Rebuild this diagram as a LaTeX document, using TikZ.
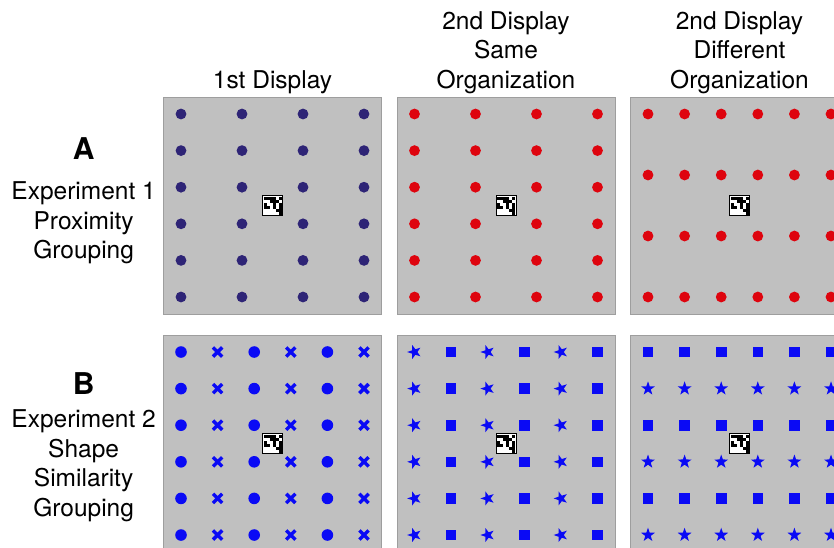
\documentclass[tikz,border=0pt]{standalone}
\usepackage{fontspec}
\setmainfont{TeX Gyre Heros}
\usetikzlibrary{positioning}

\definecolor{panelgray}{RGB}{192,192,192}
\definecolor{framegray}{RGB}{158,158,158}
\definecolor{navydot}{RGB}{46,36,118}
\definecolor{reddot}{RGB}{222,4,14}
\definecolor{shapeblue}{RGB}{10,10,245}

\tikzset{
    % fixation mark in the middle of every display
    fixation/.pic={
        \fill[white] (-10,-10) rectangle (10,10);
        \foreach \i/\j in {0/0,1/0,2/0,3/0,5/0, 2/1,3/1,4/1, 0/2,3/2,5/2,
                           0/3,1/3,3/3,5/3, 4/4,5/4, 5/5}
            \fill[black] (-9+3*\i,-9+3*\j) rectangle ++(3,3);
        \draw[black, line width=1pt] (-10,-10) rectangle (10,10);
    },
    crossmark/.pic={
        \draw[shapeblue, line width=3.4pt] (-4.6,-4.6) -- (4.6,4.6) (-4.6,4.6) -- (4.6,-4.6);
    },
    squaremark/.pic={
        \fill[shapeblue] (-5.3,-5.3) rectangle (5.3,5.3);
    },
    starmark/.pic={
        \fill[shapeblue] (-90:7.3) \foreach \k in {1,...,9}{
            -- ({-90+36*\k}:{ifthenelse(isodd(\k),2.9,7.3)}) } -- cycle;
    }
}

\begin{document}
\begin{tikzpicture}[
        x=1pt, y=-1pt,
        node distance=15.5pt and 15.5pt,
        panel/.style={rectangle, draw=framegray, fill=panelgray, line width=0.8pt,
                      minimum width=218pt, minimum height=217pt, inner sep=0pt, outer sep=0pt},
        header/.style={align=center, inner sep=0pt, font=\fontsize{24.5}{29.5}\selectfont},
        rowlabel/.style={align=center, inner sep=0pt, font=\fontsize{24.5}{29.5}\selectfont},
        letter/.style={inner sep=0pt, font=\fontsize{30}{30}\selectfont\bfseries}
    ]
        \clip (0,0) rectangle (834,547);

        % Displays
        \node[panel] (p11) at (272.5,205.5) {};
        \node[panel, right=of p11] (p12) {};
        \node[panel, right=of p12] (p13) {};
        \node[panel, below=21pt of p11] (p21) {};
        \node[panel, right=of p21] (p22) {};
        \node[panel, right=of p22] (p23) {};

        % Column headers
        \node[header, above=3pt of p11] (h1) {1st Display};
        \node[header, above=3pt of p12] (h2) {2nd Display\\Same\\Organization};
        \node[header, above=3pt of p13] (h3) {2nd Display\\Different\\Organization};

        % Row labels
        \node[rowlabel, left=7.5pt of p11, yshift=-17.5pt] (labA) {Experiment 1\\Proximity\\Grouping};
        \node[letter, above=22.5pt of labA] (letA) {A};
        \node[rowlabel, left=7.5pt of p21, yshift=-22pt] (labB) {Experiment 2\\Shape\\Similarity\\Grouping};
        \node[letter, above=15pt of labB] (letB) {B};

        % Experiment 1: proximity
        \begin{scope}[shift={(p11.center)}]
            \foreach \x in {-91.5,-30.5,30.5,91.5}
                \foreach \j in {0,...,5}
                    \fill[navydot] (\x,-91.5+36.6*\j) circle (5.4);
            \pic {fixation};
        \end{scope}
        \begin{scope}[shift={(p12.center)}]
            \foreach \x in {-91.5,-30.5,30.5,91.5}
                \foreach \j in {0,...,5}
                    \fill[reddot] (\x,-91.5+36.6*\j) circle (5.4);
            \pic {fixation};
        \end{scope}
        \begin{scope}[shift={(p13.center)}]
            \foreach \i in {0,...,5}
                \foreach \y in {-91.5,-30.5,30.5,91.5}
                    \fill[reddot] (-91.5+36.6*\i,\y) circle (5.4);
            \pic {fixation};
        \end{scope}

        % Experiment 2: shape similarity
        \begin{scope}[shift={(p21.center)}]
            \foreach \i in {0,2,4}
                \foreach \j in {0,...,5}
                    \fill[shapeblue] (-91.5+36.6*\i,-91.5+36.6*\j) circle (5.8);
            \foreach \i in {1,3,5}
                \foreach \j in {0,...,5}
                    \pic at (-91.5+36.6*\i,-91.5+36.6*\j) {crossmark};
            \pic {fixation};
        \end{scope}
        \begin{scope}[shift={(p22.center)}]
            \foreach \i in {0,2,4}
                \foreach \j in {0,...,5}
                    \pic[rotate=18] at (-91.5+36.6*\i,-91.5+36.6*\j) {starmark};
            \foreach \i in {1,3,5}
                \foreach \j in {0,...,5}
                    \pic at (-91.5+36.6*\i,-91.5+36.6*\j) {squaremark};
            \pic {fixation};
        \end{scope}
        \begin{scope}[shift={(p23.center)}]
            \foreach \i in {0,...,5}
                \foreach \j in {0,2,4}
                    \pic at (-91.5+36.6*\i,-91.5+36.6*\j) {squaremark};
            \foreach \i in {0,...,5}
                \foreach \j in {1,3,5}
                    \pic at (-91.5+36.6*\i,-91.5+36.6*\j) {starmark};
            \pic {fixation};
        \end{scope}
    \end{tikzpicture}
\end{document}
